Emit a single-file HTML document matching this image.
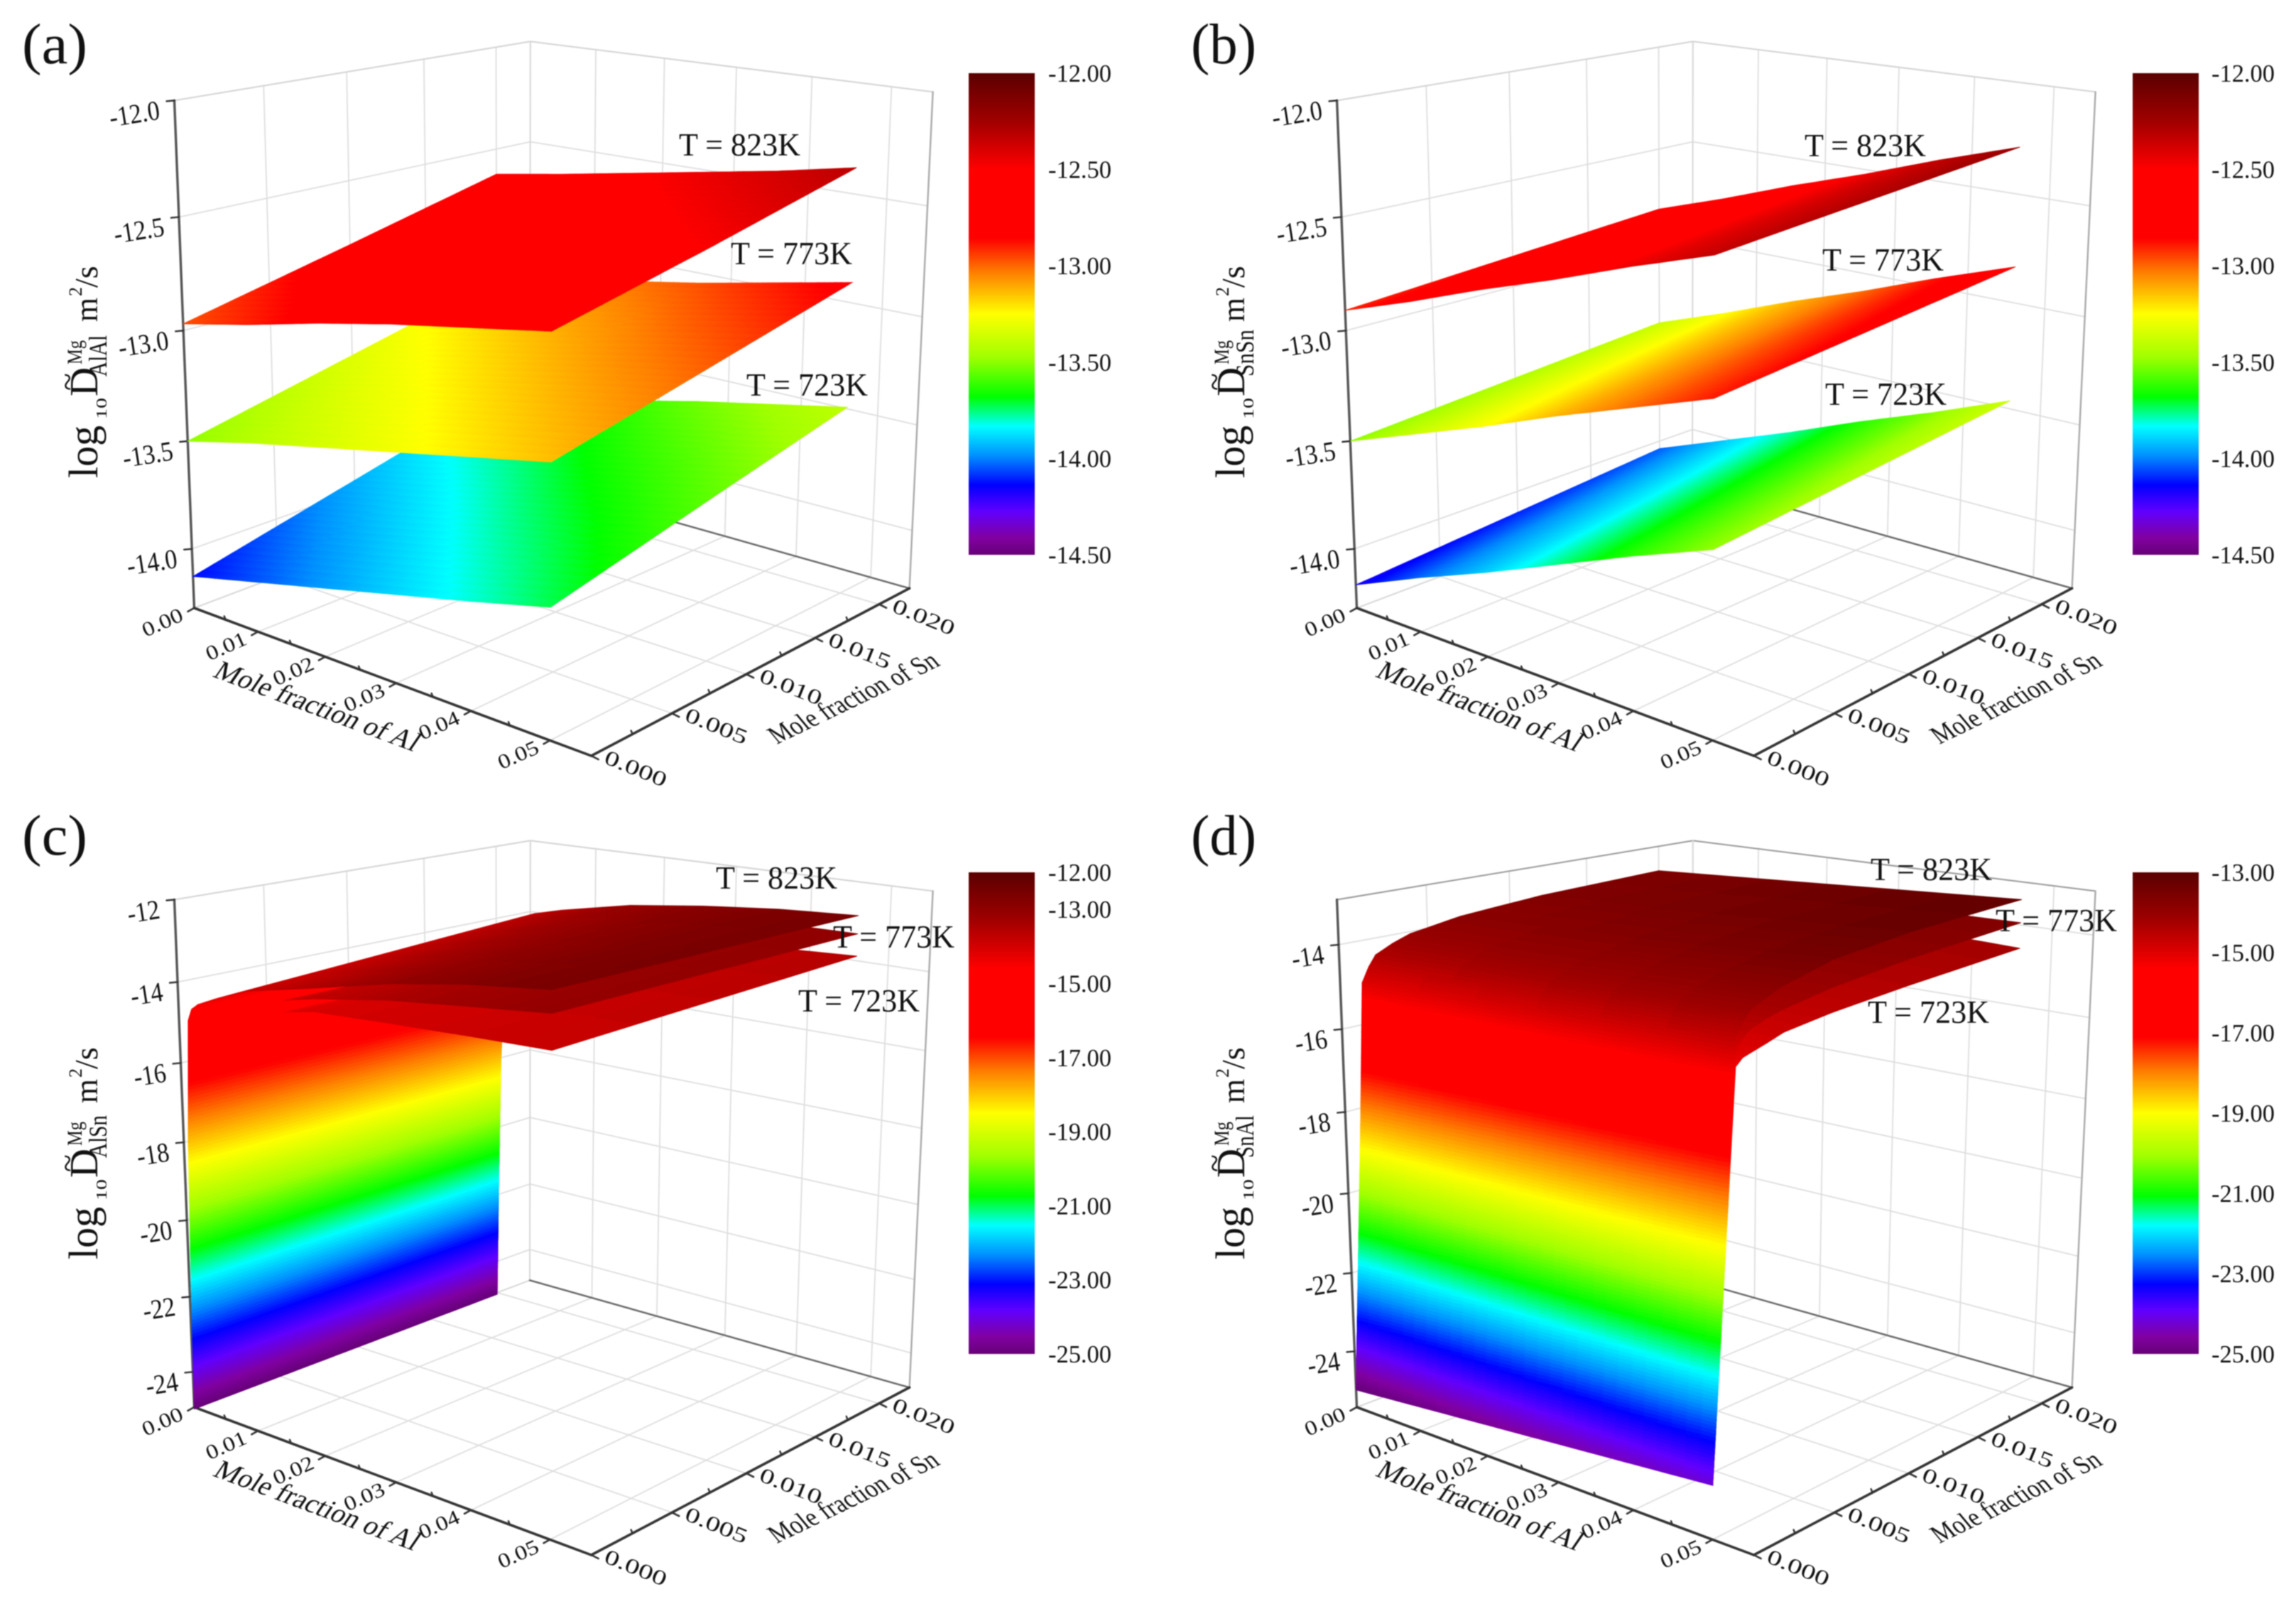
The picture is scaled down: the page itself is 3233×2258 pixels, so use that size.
<!DOCTYPE html>
<html>
<head>
<meta charset="utf-8">
<title>Interdiffusion coefficient surfaces</title>
<style>
html,body{margin:0;padding:0;background:#fff;}
svg{display:block;filter:blur(.7px);}
text{font-family:"Liberation Serif",serif;fill:#111;}
</style>
</head>
<body>
<svg id="root" xmlns="http://www.w3.org/2000/svg" width="3233" height="2258" viewBox="0 0 3233 2258">
<defs id="defs"></defs>
<rect width="3233" height="2258" fill="#fff"></rect>
</svg>
<script>
// ---------- shared axis data ----------
const alTicks = [0, 0.01, 0.02, 0.03, 0.04, 0.05];
const snTicks = [0, 0.005, 0.01, 0.015, 0.02];
const alTickLabels = ['0.00', '0.01', '0.02', '0.03', '0.04', '0.05'];
const snTickLabels = ['0.000', '0.005', '0.010', '0.015', '0.020'];
const tempLabels = ['T = 723K', 'T = 773K', 'T = 823K'];

// ---------- panel a ----------
const xsFlat = [0, 0.01, 0.02, 0.03, 0.04, 0.05];
const ysFlat = [0, 0.01, 0.02];
const aZ723 = [[-14.13,-14.05,-13.97,-13.89,-13.81,-13.725],[-13.945,-13.87,-13.795,-13.715,-13.64,-13.56],[-13.76,-13.69,-13.62,-13.54,-13.47,-13.40]];
const aZ773 = [[-13.50,-13.42,-13.35,-13.28,-13.21,-13.14],[-13.33,-13.26,-13.19,-13.12,-13.05,-12.985],[-13.16,-13.10,-13.03,-12.97,-12.90,-12.83]];
const aZ823 = [[-12.97,-12.90,-12.82,-12.75,-12.69,-12.63],[-12.80,-12.73,-12.67,-12.60,-12.54,-12.48],[-12.625,-12.57,-12.51,-12.45,-12.39,-12.32]];
// ---------- panel b ----------
const bZ723 = [[-14.17,-14.03,-13.90,-13.76,-13.62,-13.49],[-14.105,-13.97,-13.84,-13.70,-13.565,-13.43],[-14.04,-13.91,-13.78,-13.64,-13.51,-13.37]];
const bZ773 = [[-13.50,-13.38,-13.26,-13.13,-13.01,-12.89],[-13.44,-13.32,-13.195,-13.07,-12.945,-12.825],[-13.38,-13.26,-13.13,-13.01,-12.88,-12.76]];
const bZ823 = [[-12.91,-12.80,-12.68,-12.57,-12.45,-12.34],[-12.855,-12.745,-12.625,-12.515,-12.395,-12.285],[-12.80,-12.69,-12.57,-12.46,-12.34,-12.23]];
// ---------- panel c ----------
const xsC = [0, 0.0003, 0.0007, 0.0014, 0.002, 0.003, 0.006, 0.01, 0.02, 0.03, 0.04, 0.05];
const cZ723 = [[-25,-21.5,-18,-15.4,-15.15,-14.9,-14.6,-14.4,-14.05,-13.97,-13.9,-13.85],[-25,-21.5,-18,-15.35,-15.1,-14.9,-14.6,-14.35,-14.03,-13.89,-13.78,-13.7],[-25,-21.5,-18,-15.3,-15.1,-14.9,-14.6,-14.3,-14.0,-13.8,-13.65,-13.55]];
const cZ773 = [[-25,-21.5,-18,-15.2,-15.0,-14.8,-14.4,-14.15,-13.75,-13.45,-13.25,-13.06],[-25,-21.5,-18,-15.2,-14.95,-14.75,-14.3,-14.03,-13.58,-13.3,-13.14,-13.03],[-25,-21.5,-18,-15.2,-14.95,-14.7,-14.2,-13.9,-13.4,-13.15,-13.02,-13.0]];
const cZ823 = [[-25,-21.5,-18,-14.9,-14.6,-14.45,-14.2,-13.9,-13.5,-13.08,-12.77,-12.56],[-25,-21.5,-18,-14.9,-14.55,-14.33,-13.95,-13.7,-13.3,-12.95,-12.71,-12.55],[-25,-21.5,-18,-14.9,-14.5,-14.2,-13.7,-13.5,-13.1,-12.85,-12.66,-12.55]];
// ---------- panel d ----------
const xsD = [0, 0.025, 0.05];
const ysD = [0, 0.0004, 0.0008, 0.0012, 0.0016, 0.002, 0.003, 0.004, 0.007, 0.012, 0.02];
const dZ723 = [[-25,-24.6,-24.2],[-21.8,-21.5,-21.2],[-18.6,-18.4,-18.2],[-15.4,-15.3,-15.2],[-15.1,-15.1,-15.05],[-14.9,-14.98,-15.0],[-14.72,-14.82,-14.88],[-14.6,-14.7,-14.75],[-14.3,-14.5,-14.6],[-14.1,-14.3,-14.45],[-13.9,-14.1,-14.26]];
const dZ773 = [[-25,-24.6,-24.2],[-21.8,-21.5,-21.2],[-18.6,-18.4,-18.2],[-15.2,-15.0,-14.9],[-14.85,-14.8,-14.65],[-14.6,-14.6,-14.5],[-14.43,-14.43,-14.35],[-14.3,-14.3,-14.25],[-14.1,-14.1,-14.05],[-13.9,-13.9,-13.85],[-13.75,-13.7,-13.65]];
const dZ823 = [[-25,-24.6,-24.2],[-21.8,-21.5,-21.2],[-18.6,-18.4,-18.2],[-15.0,-14.8,-14.6],[-14.65,-14.5,-14.3],[-14.4,-14.3,-14.1],[-14.2,-14.1,-13.9],[-14.05,-13.95,-13.75],[-13.85,-13.7,-13.45],[-13.7,-13.5,-13.25],[-13.6,-13.35,-13.1]];
// ---------- tick labels ----------
const zTicksAB = [-12, -12.5, -13, -13.5, -14];
const zTickLabelsAB = ['-12.0', '-12.5', '-13.0', '-13.5', '-14.0'];
const zTicksC = [-12, -14, -16, -18, -20, -22, -24];
const zTickLabelsC = ['-12', '-14', '-16', '-18', '-20', '-22', '-24'];
const zTicksD = [-14, -16, -18, -20, -22, -24];
const zTickLabelsD = ['-14', '-16', '-18', '-20', '-22', '-24'];
const barTicksAB = [-12, -12.5, -13, -13.5, -14, -14.5];
const barLabelsAB = ['-12.00', '-12.50', '-13.00', '-13.50', '-14.00', '-14.50'];
const barTicksC = [-12, -13, -15, -17, -19, -21, -23, -25];
const barLabelsC = ['-12.00', '-13.00', '-15.00', '-17.00', '-19.00', '-21.00', '-23.00', '-25.00'];
const barTicksD = [-13, -15, -17, -19, -21, -23, -25];
const barLabelsD = ['-13.00', '-15.00', '-17.00', '-19.00', '-21.00', '-23.00', '-25.00'];

// colormap stops: fraction from top of colorbar, rgb
const cmapStops = [[0,90,0,0],[0.1,160,0,0],[0.2,255,0,0],[0.343,255,0,0],[0.415,255,128,0],[0.5,255,255,0],[0.59,160,255,0],[0.672,0,255,0],[0.733,0,255,255],[0.794,0,144,255],[0.855,0,0,255],[0.91,96,0,255],[0.965,128,0,160],[1,102,0,119]];

const XMAX = 0.055, YMAX = 0.0225;
const svg = document.getElementById('root');
const NS = 'http://www.w3.org/2000/svg';

function mk(tag, attrs, parent) {
  const e = document.createElementNS(NS, tag);
  for (const k in attrs) e.setAttribute(k, attrs[k]);
  (parent || svg).appendChild(e);
  return e;
}

// camera fit: projective map of unit box onto the image (panel a coordinates)
const frameRefs = [[0,0,0,273.8,857.6],[1,0,0,831.7,1063],[1,1,0,1281,828.8],[0,1,0,746,676],[0,0,1,245.9,140.5],[0,1,1,746,59],[1,1,1,1314,129.7],[0,0,0.5,260,509.5]];
function fitCamera(refs) {
  const rows = [], rhs = [];
  refs.forEach(function (r) {
    const X = r[0], Y = r[1], Z = r[2], u = r[3] / 1000, v = r[4] / 1000;
    rows.push([X, Y, Z, 1, 0, 0, 0, 0, -u * X, -u * Y, -u * Z]); rhs.push(u);
    rows.push([0, 0, 0, 0, X, Y, Z, 1, -v * X, -v * Y, -v * Z]); rhs.push(v);
  });
  const n = 11, M = [];
  for (let i = 0; i < n; i++) {
    M.push(new Array(n + 1).fill(0));
    for (let j = 0; j < n; j++) for (let k = 0; k < rows.length; k++) M[i][j] += rows[k][i] * rows[k][j];
    for (let k = 0; k < rows.length; k++) M[i][n] += rows[k][i] * rhs[k];
  }
  for (let i = 0; i < n; i++) {
    let p = i;
    for (let r = i + 1; r < n; r++) if (Math.abs(M[r][i]) > Math.abs(M[p][i])) p = r;
    const t = M[i]; M[i] = M[p]; M[p] = t;
    for (let r = 0; r < n; r++) {
      if (r === i) continue;
      const f = M[r][i] / M[i][i];
      for (let c = i; c <= n; c++) M[r][c] -= f * M[i][c];
    }
  }
  const s = [];
  for (let i = 0; i < n; i++) s.push(M[i][n] / M[i][i]);
  return s;
}
const cam = fitCamera(frameRefs);

function project(panel, x, y, z) {
  const X = x / XMAX, Y = y / YMAX, Z = (z - panel.zBottom) / (panel.zTop - panel.zBottom);
  const w = cam[8] * X + cam[9] * Y + cam[10] * Z + 1;
  return [
    (cam[0] * X + cam[1] * Y + cam[2] * Z + cam[3]) / w * 1000 + panel.ox,
    (cam[4] * X + cam[5] * Y + cam[6] * Z + cam[7]) / w * 1000 + panel.oy
  ];
}

function colorAt(t) {
  t = Math.max(0, Math.min(1, t));
  for (let i = 1; i < cmapStops.length; i++) {
    if (t <= cmapStops[i][0]) {
      const a = cmapStops[i - 1], b = cmapStops[i], f = (t - a[0]) / (b[0] - a[0]);
      return 'rgb(' + Math.round(a[1] + (b[1] - a[1]) * f) + ',' + Math.round(a[2] + (b[2] - a[2]) * f) + ',' + Math.round(a[3] + (b[3] - a[3]) * f) + ')';
    }
  }
  return 'rgb(102,0,119)';
}

// shared gradient for the colorbars
const grad = mk('linearGradient', { id: 'cbar', x1: 0, y1: 0, x2: 0, y2: 1 }, document.getElementById('defs'));
cmapStops.forEach(function (s) {
  mk('stop', { offset: s[0], 'stop-color': 'rgb(' + s[1] + ',' + s[2] + ',' + s[3] + ')' }, grad);
});

function line(parent, a, b, color, w) {
  return mk('line', { x1: a[0].toFixed(1), y1: a[1].toFixed(1), x2: b[0].toFixed(1), y2: b[1].toFixed(1), stroke: color, 'stroke-width': w, 'stroke-linecap': 'round' }, parent);
}

function label(parent, str, x, y, size, xform, len, anchor) {
  const a = { 'font-size': size, transform: 'translate(' + x.toFixed(1) + ' ' + y.toFixed(1) + ') ' + (xform || '') };
  if (len) { a.textLength = len; a.lengthAdjust = 'spacingAndGlyphs'; }
  if (anchor) a['text-anchor'] = anchor;
  const t = mk('text', a, parent);
  t.textContent = str;
  return t;
}

function paintCells(panel, g, xs, ys, zz, xFrom, xTo) {
  const span = panel.barTop - panel.barBottom;
  const step = span / panel.shades;
  for (let j = ys.length - 2; j >= 0; j--) {
    for (let i = xFrom; i < xTo; i++) {
      const z00 = zz[j][i], z10 = zz[j][i + 1], z01 = zz[j + 1][i], z11 = zz[j + 1][i + 1];
      let nu = Math.min(60, Math.max(2, Math.ceil(Math.max(Math.abs(z10 - z00), Math.abs(z11 - z01)) / step)));
      let nv = Math.min(40, Math.max(2, Math.ceil(Math.max(Math.abs(z01 - z00), Math.abs(z11 - z10)) / step)));
      if (nv > 8 && nu < 14) nu = 14;
      if (nu > 8 && nv < 14) nv = 14;
      for (let b = nv - 1; b >= 0; b--) {
        for (let a = 0; a < nu; a++) {
          const corners = [[a, b], [a + 1, b], [a + 1, b + 1], [a, b + 1]];
          let zs = 0;
          const pts = corners.map(function (c) {
            const u = c[0] / nu, v = c[1] / nv;
            const zv = z00 * (1 - u) * (1 - v) + z10 * u * (1 - v) + z01 * (1 - u) * v + z11 * u * v;
            zs += zv;
            const p = project(panel, xs[i] + (xs[i + 1] - xs[i]) * u, ys[j] + (ys[j + 1] - ys[j]) * v, zv);
            return p[0].toFixed(1) + ',' + p[1].toFixed(1);
          });
          const col = colorAt((panel.barTop - zs / 4) / span);
          const poly = mk('polygon', { points: pts.join(' '), fill: col, stroke: col, 'stroke-width': 0.9 }, g);
          
          
        }
      }
    }
  }
}

const panels = [
  { id: 'a', letter: '(a)', ox: 0, oy: 0, letterX: 31, letterY: 89, zBottom: -14.28, zTop: -12, barTop: -12, barBottom: -14.5, shades: 220,
    barX: 1364, barLabelX: 1476, xs: xsFlat, ys: ysFlat, surfaces: [aZ723, aZ773, aZ823], split: 0, sub: 'AlAl', subLen: 58,
    zTicks: zTicksAB, zLabels: zTickLabelsAB, barTicks: barTicksAB, barLabels: barLabelsAB, tdx: 0, tdy: 0, frameTop: '#d4d4d4',
    tempPos: [[1136, 542], [1114, 357], [1041, 204]] },
  { id: 'b', letter: '(b)', ox: 1637, oy: 0, letterX: 1677, letterY: 89, zBottom: -14.28, zTop: -12, barTop: -12, barBottom: -14.5, shades: 220,
    barX: 3003, barLabelX: 3114, xs: xsFlat, ys: ysFlat, surfaces: [bZ723, bZ773, bZ823], split: 0, sub: 'SnSn', subLen: 66,
    zTicks: zTicksAB, zLabels: zTickLabelsAB, barTicks: barTicksAB, barLabels: barLabelsAB, tdx: -22, tdy: 0, frameTop: '#d4d4d4',
    tempPos: [[2655, 555], [2651, 366], [2626, 205]] },
  { id: 'c', letter: '(c)', ox: 0, oy: 1125, letterX: 31, letterY: 1203, zBottom: -24.95, zTop: -12, barTop: -12, barBottom: -25, shades: 140,
    barX: 1364, barLabelX: 1476, xs: xsC, ys: ysFlat, surfaces: [cZ723, cZ773, cZ823], split: 3, sub: 'AlSn', subLen: 60,
    zTicks: zTicksC, zLabels: zTickLabelsC, barTicks: barTicksC, barLabels: barLabelsC, tdx: 0, tdy: -25, frameTop: '#d4d4d4',
    tempPos: [[1209, 1409], [1258, 1319], [1093, 1236]] },
  { id: 'd', letter: '(d)', ox: 1637, oy: 1125, letterX: 1677, letterY: 1203, zBottom: -25.45, zTop: -12.95, barTop: -13, barBottom: -25, shades: 140,
    barX: 3003, barLabelX: 3114, xs: xsD, ys: ysD, surfaces: [dZ723, dZ773, dZ823], split: 0, sub: 'SnAl', subLen: 60,
    zTicks: zTicksD, zLabels: zTickLabelsD, barTicks: barTicksD, barLabels: barLabelsD, tdx: -22, tdy: -25, frameTop: '#999999',
    tempPos: [[2715, 1425], [2895, 1296], [2719, 1224]] }
];

panels.forEach(function (P) {
  const root = mk('g', {});
  
  

  // ----- grid -----
  const grid = mk('g', {}, root);
  
  
  const GC = '#dedede', GW = 1.8;
  alTicks.forEach(function (v) {
    line(grid, project(P, v, 0, P.zBottom), project(P, v, YMAX, P.zBottom), GC, GW);
    line(grid, project(P, v, YMAX, P.zBottom), project(P, v, YMAX, P.zTop), GC, GW);
  });
  snTicks.forEach(function (v) {
    line(grid, project(P, 0, v, P.zBottom), project(P, XMAX, v, P.zBottom), GC, GW);
    line(grid, project(P, 0, v, P.zBottom), project(P, 0, v, P.zTop), GC, GW);
  });
  P.zTicks.forEach(function (v) {
    line(grid, project(P, 0, 0, v), project(P, 0, YMAX, v), GC, GW);
    line(grid, project(P, 0, YMAX, v), project(P, XMAX, YMAX, v), GC, GW);
  });

  // ----- frame -----
  const frame = mk('g', {}, root);
  
  
  const A = project(P, 0, 0, P.zBottom), B = project(P, XMAX, 0, P.zBottom), C = project(P, XMAX, YMAX, P.zBottom), D = project(P, 0, YMAX, P.zBottom);
  const At = project(P, 0, 0, P.zTop), Ct = project(P, XMAX, YMAX, P.zTop), Dt = project(P, 0, YMAX, P.zTop);
  line(frame, At, Dt, P.frameTop, 2);
  line(frame, Dt, Ct, P.frameTop, 2);
  line(frame, Dt, D, '#d8d8d8', 2);
  line(frame, Ct, C, '#aaaaaa', 2.4);
  line(frame, A, D, '#d8d8d8', 2);
  line(frame, D, C, '#666666', 2.4);

  // ----- axes and ticks -----
  const zAxis = line(frame, At, A, '#555555', 3.4);
  
  
  const xAxis = line(frame, A, B, '#333333', 3.6);
  
  
  const yAxis = line(frame, B, C, '#333333', 3.6);
  
  

  const tickG = mk('g', {}, root);
  
  
  alTicks.forEach(function (v, i) {
    const p = project(P, v, 0, P.zBottom);
    line(tickG, p, [p[0] - 9, p[1] + 5], '#333', 2.6);
    if (i < alTicks.length - 1) {
      const m = project(P, (v + alTicks[i + 1]) / 2, 0, P.zBottom);
      line(tickG, m, [m[0] - 2, m[1] - 5], '#333', 2.4);
    }
    const t = label(root, alTickLabels[i], p[0] - 41, p[1] + 29, 34, 'rotate(-24) scale(1 .85)', 60, 'middle');
    
    
  });
  snTicks.forEach(function (v, i) {
    const p = project(P, XMAX, v, P.zBottom);
    line(tickG, p, [p[0] + 10, p[1] + 5], '#333', 2.6);
    if (i < snTicks.length - 1) {
      const m = project(P, XMAX, (v + snTicks[i + 1]) / 2, P.zBottom);
      line(tickG, m, [m[0] - 2, m[1] - 5], '#333', 2.4);
    }
    const t = label(root, snTickLabels[i], p[0] + 59, p[1] + 27, 36, 'rotate(22) scale(1 .82)', 92, 'middle');
    
    
  });
  P.zTicks.forEach(function (v, i) {
    const p = project(P, 0, 0, v);
    line(tickG, p, [p[0] - 11, p[1] + 1], '#333', 2.4);
    const t = label(root, P.zLabels[i], p[0] - 19, p[1] + 26, 36, 'rotate(-9) scale(.95 1.08)', 0, 'end');
    
    
  });

  // ----- axis titles -----
  const xT = label(root, 'Mole fraction of Al', P.ox + 298, P.oy + 952, 39, 'rotate(20.5) skewX(-14)', 303);
  
  
  const yT = label(root, 'Mole fraction of Sn', P.ox + 1094, P.oy + 1048, 38, 'rotate(-25.8) skewX(14)', 257);
  
  

  const zT = mk('g', {}, root);
  
  
  const tx = P.ox + P.tdx, ty = P.oy + P.tdy;
  const rot = 'rotate(-90)';
  label(zT, 'log', tx + 137, ty + 673, 58, rot);
  label(zT, '10', tx + 150, ty + 590, 21, rot, 30);
  label(zT, 'D', tx + 137, ty + 558, 56, rot, 41);
  label(zT, '~', tx + 110, ty + 550, 46, rot);
  label(zT, 'Mg', tx + 115, ty + 513, 30, rot, 34);
  label(zT, P.sub, tx + 150, ty + 530, 36, rot, P.subLen);
  label(zT, 'm', tx + 137, ty + 453, 46, rot, 34);
  label(zT, '2', tx + 115, ty + 417, 26, rot);
  label(zT, '/s', tx + 137, ty + 405, 46, rot);

  // ----- surfaces -----
  const surfNames = ['surface-723k', 'surface-773k', 'surface-823k'];
  const nCols = P.xs.length - 1;
  const surfGroups = P.surfaces.map(function (zz, s) {
    const g = mk('g', {}, root);
    
    
    return g;
  });
  if (P.split > 0) {
    // steep wall at x≈0 sits behind every plateau
    P.surfaces.forEach(function (zz, s) { paintCells(P, surfGroups[0], P.xs, P.ys, zz, 0, P.split); });
  }
  P.surfaces.forEach(function (zz, s) {
    const g = mk('g', {}, surfGroups[s]);
    paintCells(P, g, P.xs, P.ys, zz, P.split, nCols);
  });

  // ----- temperature labels -----
  tempLabels.forEach(function (s, i) {
    const t = label(root, s, P.tempPos[i][0] - 85, P.tempPos[i][1] + 15, 45, '', 171);
    
    
  });

  // ----- colorbar -----
  const barY0 = 103 + P.oy, barY1 = 781 + P.oy;
  const bar = mk('rect', { x: P.barX, y: barY0, width: 93, height: barY1 - barY0, fill: 'url(#cbar)' }, root);
  
  
  P.barTicks.forEach(function (v, i) {
    const y = barY0 + (P.barTop - v) / (P.barTop - P.barBottom) * (barY1 - barY0);
    const t = label(root, P.barLabels[i], P.barLabelX, y + 12, 35, '', 89);
    
    
  });

  // ----- panel letter -----
  const L = label(root, P.letter, P.letterX, P.letterY, 80, '', 92);
  
  
});
</script>
</body>
</html>
